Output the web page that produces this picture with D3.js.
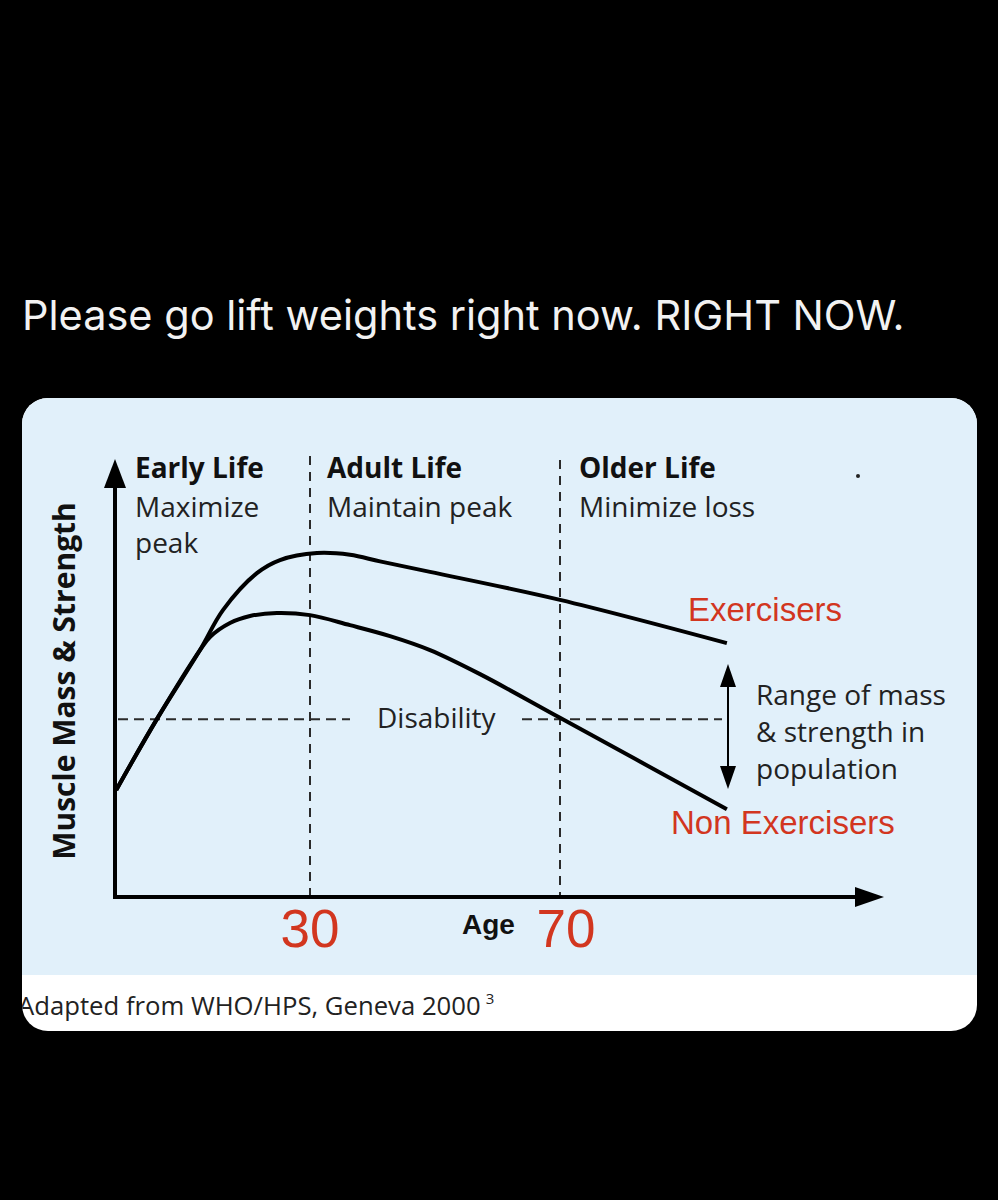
<!DOCTYPE html>
<html lang="en">
<head>
<meta charset="UTF-8">
<title>Muscle mass across life</title>
<script src="https://cdn.jsdelivr.net/npm/d3@7"></script>
<style>
  html, body { margin: 0; padding: 0; background: #000; }
  svg { display: block; }
</style>
</head>
<body>
<script>
// curve data: age (years) vs relative muscle mass & strength (0-100)
var exAge  = [-1.0, 5.5, 12.4, 16.1, 21.5, 25.2, 31.1, 36.4, 41.2, 49.2, 70.0, 96.7];
var exVal  = [24.5, 40.7, 56.5, 65.7, 74.1, 77.1, 78.7, 78.3, 76.8, 74.4, 68.0, 58.1];
var nonAge = [-1.0, 5.5, 12.4, 14.0, 17.2, 20.4, 24.7, 30.0, 36.4, 42.8, 49.2, 57.2, 70.0, 96.7];
var nonVal = [24.5, 40.7, 56.5, 59.5, 62.7, 64.3, 65.0, 64.5, 62.2, 59.7, 56.5, 51.0, 41.0, 20.1];
var disabilityLevel = 40.7;
var ageTicks = [30, 70];
var stageTitles = ["Early Life", "Adult Life", "Older Life"];
var stageNotes = [["Maximize", "peak"], ["Maintain peak"], ["Minimize loss"]];
var rangeNote = ["Range of mass", "& strength in", "population"];

var width = 998, height = 1200;
var red = "#d2361f";
var sans = "'Open Sans', 'Noto Sans', sans-serif";
var arial = "'Liberation Sans', Arial, sans-serif";

var svg = d3.select("body").append("svg")
  .attr("width", width).attr("height", height);

svg.append("rect").attr("width", width).attr("height", height).attr("fill", "#000");

svg.append("text")
  .attr("x", 22).attr("y", 330)
  .attr("fill", "#f2f2f2")
  .attr("font-family", "Inter, 'Open Sans', sans-serif")
  .attr("font-size", 41.5)
  .text("Please go lift weights right now. RIGHT NOW.");

// card
var card = {x: 22, y: 398, w: 955, h: 633, r: 26};
svg.append("clipPath").attr("id", "cardclip")
  .append("rect").attr("x", card.x).attr("y", card.y)
  .attr("width", card.w).attr("height", card.h).attr("rx", card.r);

var g = svg.append("g").attr("clip-path", "url(#cardclip)");
g.append("rect").attr("x", card.x).attr("y", card.y)
  .attr("width", card.w).attr("height", card.h).attr("fill", "#ffffff");
g.append("rect").attr("x", card.x).attr("y", card.y)
  .attr("width", card.w).attr("height", 577).attr("fill", "#e1f0fa");

var x = d3.scaleLinear().domain([30, 70]).range([310, 560]);
var y = d3.scaleLinear().domain([0, 100]).range([897, 460]);

var x0 = 115, y0 = 897;

// dashed guides
g.selectAll(".vguide").data(ageTicks).enter().append("line")
  .attr("x1", function(d) { return x(d); }).attr("x2", function(d) { return x(d); })
  .attr("y1", function(d, i) { return i == 0 ? 456 : 460; }).attr("y2", y0)
  .attr("stroke", "#2a2a2a").attr("stroke-width", 2)
  .attr("stroke-dasharray", "9,7");

var dis = y(disabilityLevel);
[[x0 + 3, 350], [522, 722]].forEach(function(s) {
  g.append("line")
    .attr("x1", s[0]).attr("x2", s[1]).attr("y1", dis).attr("y2", dis)
    .attr("stroke", "#2a2a2a").attr("stroke-width", 2)
    .attr("stroke-dasharray", "10,6");
});

// axes with arrow heads
g.append("line").attr("x1", x0).attr("x2", x0).attr("y1", y0 + 2).attr("y2", 480)
  .attr("stroke", "#000").attr("stroke-width", 4);
g.append("path").attr("d", "M" + x0 + ",459 L" + (x0 - 11) + ",488 L" + (x0 + 11) + ",488 Z")
  .attr("fill", "#000");
g.append("line").attr("x1", x0 - 2).attr("x2", 860).attr("y1", y0).attr("y2", y0)
  .attr("stroke", "#000").attr("stroke-width", 4);
g.append("path").attr("d", "M884," + y0 + " L855," + (y0 - 10) + " L855," + (y0 + 10) + " Z")
  .attr("fill", "#000");

// curves
var line = d3.line()
  .x(function(d) { return x(d[0]); })
  .y(function(d) { return y(d[1]); })
  .curve(d3.curveCatmullRom.alpha(0.5));

var exPts = exAge.map(function(a, i) { return [a, exVal[i]]; });
var nonPts = nonAge.map(function(a, i) { return [a, nonVal[i]]; });

[exPts, nonPts].forEach(function(p) {
  g.append("path").attr("d", line(p))
    .attr("fill", "none").attr("stroke", "#000")
    .attr("stroke-width", 4).attr("stroke-linecap", "butt");
});

// range double arrow
var ax = 728;
g.append("line").attr("x1", ax).attr("x2", ax).attr("y1", 680).attr("y2", 772)
  .attr("stroke", "#000").attr("stroke-width", 2);
g.append("path").attr("d", "M" + ax + ",664 L" + (ax - 8) + ",687 L" + (ax + 8) + ",687 Z").attr("fill", "#000");
g.append("path").attr("d", "M" + ax + ",789 L" + (ax - 8) + ",766 L" + (ax + 8) + ",766 Z").attr("fill", "#000");

// stage labels
var stageX = [135, 327, 579];
stageTitles.forEach(function(t, i) {
  g.append("text").attr("x", stageX[i]).attr("y", 478)
    .attr("font-family", sans).attr("font-weight", 700).attr("font-size", 28)
    .attr("fill", "#111").text(t);
  stageNotes[i].forEach(function(n, j) {
    g.append("text").attr("x", stageX[i]).attr("y", 517 + j * 36)
      .attr("font-family", sans).attr("font-size", 28)
      .attr("fill", "#222").text(n);
  });
});
g.append("circle").attr("cx", 858).attr("cy", 476).attr("r", 2).attr("fill", "#222");

g.append("text").attr("x", 377).attr("y", 728)
  .attr("font-family", sans).attr("font-size", 28).attr("fill", "#222")
  .text("Disability");

rangeNote.forEach(function(n, j) {
  g.append("text").attr("x", 756).attr("y", 705 + j * 37)
    .attr("font-family", sans).attr("font-size", 28).attr("fill", "#222")
    .text(n);
});

g.append("text").attr("x", 688).attr("y", 621)
  .attr("font-family", arial).attr("font-size", 33).attr("fill", red)
  .text("Exercisers");
g.append("text").attr("x", 671).attr("y", 834)
  .attr("font-family", arial).attr("font-size", 33).attr("fill", red)
  .text("Non Exercisers");

// y axis title
g.append("text")
  .attr("transform", "translate(75,681) rotate(-90)")
  .attr("text-anchor", "middle")
  .attr("font-family", sans).attr("font-weight", 700).attr("font-size", 30)
  .attr("fill", "#111").text("Muscle Mass & Strength");

// age ticks
var tickShift = [0, 6];
g.selectAll(".agetick").data(ageTicks).enter().append("text")
  .attr("x", function(d, i) { return x(d) + tickShift[i]; }).attr("y", 947)
  .attr("text-anchor", "middle")
  .attr("font-family", arial).attr("font-size", 53).attr("fill", red)
  .text(function(d) { return d; });
g.append("text").attr("x", 462).attr("y", 934)
  .attr("font-family", arial).attr("font-weight", 700).attr("font-size", 28)
  .attr("fill", "#111").text("Age");

// source
var src = g.append("text").attr("x", 18).attr("y", 1015)
  .attr("font-family", sans).attr("font-size", 25.7).attr("fill", "#222");
src.append("tspan").text("Adapted from WHO/HPS, Geneva 2000");
src.append("tspan").attr("dx", 5).attr("dy", -11).attr("font-size", 15).text("3");
</script>
</body>
</html>
